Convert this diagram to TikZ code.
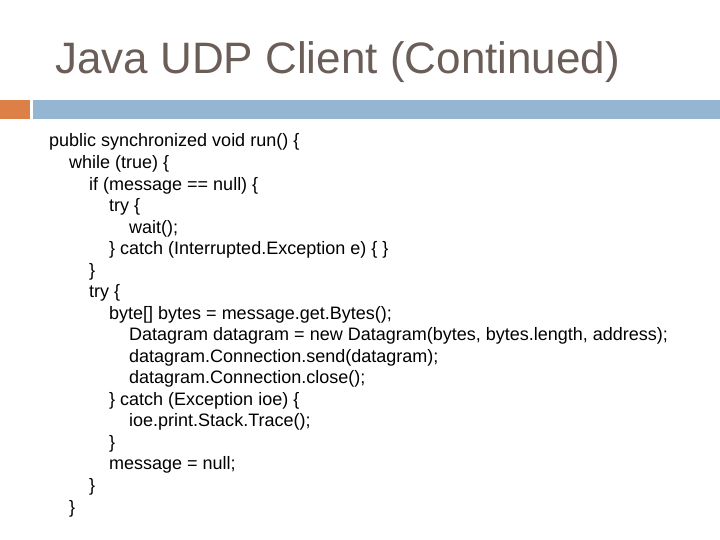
\documentclass[tikz,border=0pt]{standalone}
\usepackage{fontspec}
\setmainfont{Liberation Sans}
\definecolor{titlec}{HTML}{6B5E58}
\definecolor{orangec}{HTML}{DD8047}
\definecolor{bluec}{HTML}{94B6D2}
\begin{document}
\begin{tikzpicture}[x=1pt,y=-1pt,
  code/.style={anchor=base west,inner sep=0pt,font=\fontsize{18}{21}\selectfont}]
\useasboundingbox (0,0) rectangle (720,540);
\node[anchor=base west,inner sep=0pt,text=titlec,font=\fontsize{44}{48}\selectfont] (title) at (55,74) {Java UDP Client (Continued)};
\fill[orangec] (0,100) rectangle (30,119);
\fill[bluec] (33,100) rectangle (720,119);
\foreach \i/\lvl/\t in {
0/0/{public synchronized void run() \{},
1/1/{while (true) \{},
2/2/{if (message == null) \{},
3/3/{try \{},
4/4/{wait();},
5/3/{\} catch (Interrupted.Exception e) \{ \}},
6/2/{\}},
7/2/{try \{},
8/3/{byte[] bytes = message.get.Bytes();},
9/4/{Datagram datagram = new Datagram(bytes, bytes.length, address);},
10/4/{datagram.Connection.send(datagram);},
11/4/{datagram.Connection.close();},
12/3/{\} catch (Exception ioe) \{},
13/4/{ioe.print.Stack.Trace();},
14/3/{\}},
15/3/{message = null;},
16/2/{\}},
17/1/{\}}}
  \node[code] (l\i) at ({49+20*\lvl},{147+21.53*\i}) {\t};
\end{tikzpicture}
\end{document}
